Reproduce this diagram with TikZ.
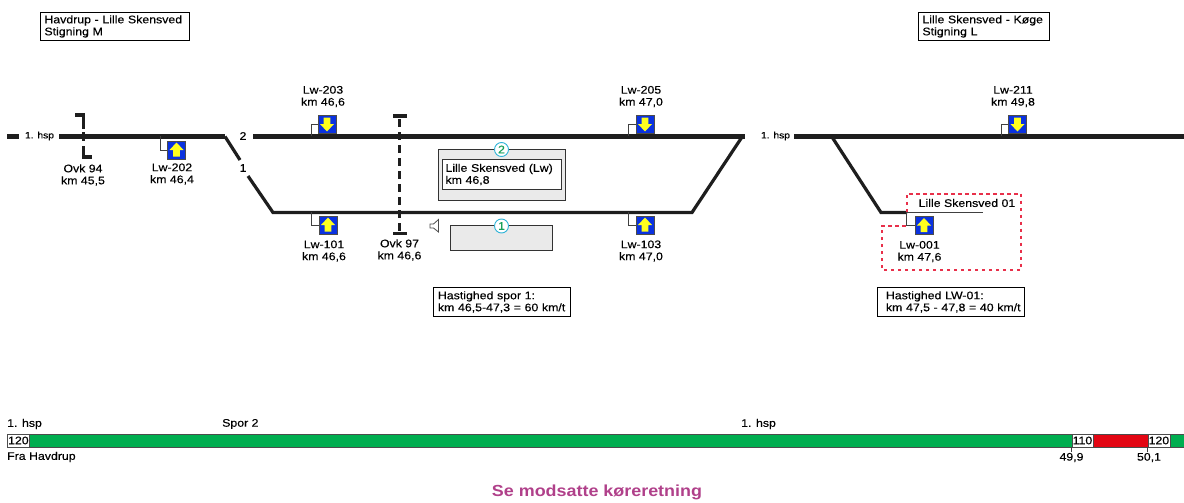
\documentclass[tikz,border=0pt]{standalone}
\usepackage{fontspec}
\setmainfont{Liberation Sans}[FakeStretch=1.12,FakeBold=0.25]
\newfontfamily\titlefont{Liberation Sans Bold}[FakeStretch=1.12]
\definecolor{trk}{HTML}{1E1E1E}
\definecolor{sigblue}{HTML}{0A32E0}
\definecolor{sigyel}{HTML}{FFFF1E}
\definecolor{bargreen}{HTML}{00AE50}
\definecolor{barred}{HTML}{E30613}
\definecolor{boxgrey}{HTML}{EAEAEA}
\definecolor{circ}{HTML}{2FB4D8}
\definecolor{num}{HTML}{17A05A}
\definecolor{dotred}{HTML}{E8304A}
\definecolor{plum}{HTML}{B0408A}
\tikzset{
 x=1pt,y=-1pt,
 txt/.style={font=\fontsize{11}{12}\selectfont,text=black,inner sep=0pt,align=center},
 ltxt/.style={txt,align=left},
 trklab/.style={txt,font=\fontsize{9.2}{11}\selectfont},
 lbox/.style={draw=black,line width=.9pt,fill=white,ltxt,inner xsep=4pt,inner ysep=2.5pt,anchor=north west},
 track/.style={draw=trk,line width=4.4pt},
 track2/.style={draw=trk,line width=3.2pt},
 stem/.style={draw=black!75,line width=.9pt},
 sigbox/.style={draw=black!70,fill=sigblue,line width=.8pt,minimum size=18pt,inner sep=0pt},
 pf/.style={draw=black!80,fill=boxgrey,line width=.9pt},
 pnum/.style={circle,draw=circ,fill=white,line width=.9pt,minimum size=14pt,inner sep=0pt,text=num,font=\fontsize{11}{12}\selectfont},
 ovk/.style={draw=trk,line width=3.2pt},
 bar/.style={draw=none,minimum height=13pt,inner sep=0pt,anchor=west},
 spd/.style={draw=black!70,fill=white,line width=.8pt,minimum height=13pt,inner sep=0pt,anchor=west,font=\fontsize{11}{12}\selectfont},
 dotb/.style={draw=dotred,line width=2pt,dash pattern=on 3.5pt off 3.5pt},
}
\newcommand{\sigup}[1]{\fill[sigyel,draw=none] ([shift={(0,-7.5)}]#1.center) -- ++(7,7.5) -- ++(-3.6,0) -- ++(0,6.5) -- ++(-6.8,0) -- ++(0,-6.5) -- ++(-3.6,0) -- cycle;}
\newcommand{\sigdn}[1]{\fill[sigyel,draw=none] ([shift={(0,7.5)}]#1.center) -- ++(7,-7.5) -- ++(-3.6,0) -- ++(0,-6.5) -- ++(-6.8,0) -- ++(0,6.5) -- ++(-3.6,0) -- cycle;}
\begin{document}
\begin{tikzpicture}
\useasboundingbox (0,0) rectangle (1184,503);
% header boxes
\node[lbox,minimum width=149pt,minimum height=28pt,text width=141pt] (h1) at (40,12) {Havdrup - Lille Skensved\\Stigning M};
\node[lbox,minimum width=131pt,minimum height=28pt,text width=123pt] (h2) at (918,12) {Lille Skensved - Køge\\Stigning L};
% track coordinates
\coordinate (a0) at (7,136.5); \coordinate (a1) at (19,136.5);
\coordinate (b0) at (59,136.5); \coordinate (b1) at (225,136.5);
\coordinate (c0) at (253,136.5); \coordinate (c1) at (745,136.5);
\coordinate (d0) at (794,136.5); \coordinate (d1) at (1184,136.5);
\coordinate (s1) at (240,160); \coordinate (s2) at (248,176);
\coordinate (s3) at (273,212.5); \coordinate (s4) at (692,212.5); \coordinate (s5) at (742,137);
\coordinate (r0) at (832,137); \coordinate (r1) at (881,212.5); \coordinate (r2) at (907,212.5); \coordinate (r3) at (983,212.5);
\draw[track] (a0) -- (a1);
\draw[track] (b0) -- (b1);
\draw[track] (c0) -- (c1);
\draw[track] (d0) -- (d1);
\draw[track2] (b1) -- (s1);
\draw[track2,line join=miter] (s2) -- (s3) -- (s4) -- (s5);
\draw[track2,line join=miter] (r0) -- (r1) -- (r2);
\draw[draw=black!75,line width=1pt] (r2) -- (r3);
\node[trklab] (l1) at (39.5,136) {1. hsp};
\node[txt] (l2) at (243,136) {2};
\node[txt] (l3) at (243,168) {1};
\node[trklab] (l4) at (775.5,136) {1. hsp};
% level crossing 94
\coordinate (o1) at (75,115); \coordinate (o2) at (83.5,115); \coordinate (o3) at (83.5,157); \coordinate (o4) at (92,157);
\draw[ovk,line join=miter] (o1) -- (o2) -- (83.5,129);
\draw[ovk,line join=miter] (83.5,146) -- (o3) -- (o4);
\draw[draw=trk,line width=2.5pt] (83.5,132) -- (83.5,141);
\node[txt] (t94) at (83,175) {Ovk 94\\km 45,5};
% level crossing 97
\coordinate (p0) at (399.5,117); \coordinate (p1) at (399.5,233);
\draw[ovk] (393,116) -- (407,116);
\draw[ovk] (393,233.5) -- (407,233.5);
\draw[ovk,dash pattern=on 8pt off 5pt,dash phase=-2pt] (p0) -- (p1);
\node[txt] (t97) at (399.5,250) {Ovk 97\\km 46,6};
% signals
\node[sigbox] (s202) at (176.5,150) {}; \sigup{s202}
\draw[stem] (160,136) |- (s202.west);
\node[txt] (t202) at (172,174) {Lw-202\\km 46,4};
\node[sigbox] (s203) at (327,124) {}; \sigdn{s203}
\draw[stem] (311,136) |- (s203.west);
\node[txt] (t203) at (323,96.5) {Lw-203\\km 46,6};
\node[sigbox] (s205) at (645,124) {}; \sigdn{s205}
\draw[stem] (628,136) |- (s205.west);
\node[txt] (t205) at (641,96.5) {Lw-205\\km 47,0};
\node[sigbox] (s211) at (1017.5,124) {}; \sigdn{s211}
\draw[stem] (1001,136) |- (s211.west);
\node[txt] (t211) at (1013,96.5) {Lw-211\\km 49,8};
\node[sigbox] (s101) at (328,225) {}; \sigup{s101}
\draw[stem] (311,212) |- (s101.west);
\node[txt] (t101) at (324,251) {Lw-101\\km 46,6};
\node[sigbox] (s103) at (645,225) {}; \sigup{s103}
\draw[stem] (628,212) |- (s103.west);
\node[txt] (t103) at (641,251) {Lw-103\\km 47,0};
\node[sigbox] (s001) at (924,225.5) {}; \sigup{s001}
\draw[stem] (906.5,212) |- (s001.west);
\node[txt] (t001) at (919.5,251.5) {Lw-001\\km 47,6};
% dotted siding outline
\draw[dotb] (906.5,212) -- (906.5,193.5) -- (1021,193.5) -- (1021,269.5) -- (881.5,269.5) -- (881.5,225.5) -- (906.5,225.5);
\node[txt] (ls) at (967,203) {Lille Skensved 01};
% platforms
\node[pf,minimum width=127pt,minimum height=51pt,inner sep=0pt] (pf2) at (501.5,174.5) {};
\node[pnum] (n2) at (501.5,149.5) {2};
\node[lbox,draw=black!80,minimum width=119pt,minimum height=30pt,text width=112pt,inner xsep=3.5pt,anchor=center] (pfl) at (501.5,174.5) {Lille Skensved (Lw)\\km 46,8};
\node[pf,minimum width=102pt,minimum height=25pt,inner sep=0pt] (pf1) at (501.5,238) {};
\node[pnum] (n1) at (501.5,226) {1};
% horn
\draw[draw=black!70,line width=.8pt,fill=white] (430,224) -- (433.5,224) -- (438.5,219.5) -- (438.5,232) -- (433.5,228) -- (430,228) -- cycle;
% speed notes
\node[lbox,minimum width=137pt,minimum height=29pt,text width=130pt,inner xsep=3.5pt] (v1) at (433,287) {\hspace*{1pt}Hastighed spor 1:\\\hspace*{1pt}\mbox{km 46,5-47,3 = 60 km/t}};
\node[lbox,minimum width=147pt,minimum height=29pt,text width=140pt,inner xsep=3.5pt] (v2) at (877,287) {\hspace*{5pt}Hastighed LW-01:\\\hspace*{5pt}\mbox{km 47,5 - 47,8 = 40 km/t}};
% speed bar
\node[ltxt,anchor=west] (b1t) at (7,424) {1. hsp};
\node[ltxt,anchor=west] (b2t) at (222,424) {Spor 2};
\node[ltxt,anchor=west] (b3t) at (741,424) {1. hsp};
\node[bar,fill=bargreen,minimum width=1177pt] (g) at (7,440.5) {};
\node[bar,fill=barred,minimum width=55pt] (rd) at (1092.5,440.5) {};
\node[spd,minimum width=22pt] (sp1) at (7,440.5) {120};
\node[spd,minimum width=21pt] (sp2) at (1071.5,440.5) {110};
\node[spd,minimum width=22pt] (sp3) at (1147.5,440.5) {120};
\draw[draw=black!70,line width=.8pt] (7,434) -- (1184,434) (7,447) -- (1184,447);
\draw[stem] (sp2.south west) -- ++(0,5);
\draw[stem] (sp3.south west) -- ++(0,5);
\node[ltxt,anchor=west] (fh) at (7,457) {Fra Havdrup};
\node[txt] (k1) at (1071.5,457.5) {49,9};
\node[txt] (k2) at (1149,457.5) {50,1};
\node[txt,text=plum,font=\fontsize{16}{18}\titlefont] (se) at (597,492) {Se modsatte køreretning};
\end{tikzpicture}
\end{document}
